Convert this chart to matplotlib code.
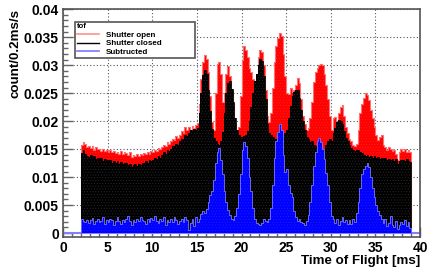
import numpy as np
import matplotlib
matplotlib.use("Agg")
from matplotlib import pyplot as plt
from matplotlib.lines import Line2D
from matplotlib.ticker import MultipleLocator, FuncFormatter

# tof histograms, 0.2 ms bins from 2.0 to 39.0 ms, values in 1e-3 count/0.2ms/s
bin_width = 0.2
tof_start = 2.0

shutter_open = [
  15.8, 16.3, 15.9, 15.4, 15.6,  15.2, 15.5, 14.9, 15.3, 15.0,
  15.1, 14.7, 15.0, 14.6, 14.9,  14.5, 14.8, 14.4, 14.6, 14.3,
  14.5, 14.2, 14.6, 14.1, 14.4,  14.3, 14.0, 14.4, 13.6, 13.9,
  13.8, 14.1, 13.7, 14.2, 14.0,  14.3, 14.1, 14.5, 14.2, 14.6,
  14.4, 14.9, 14.7, 15.2, 15.0,  15.4, 15.8, 15.5, 16.2, 15.9,
  16.4, 16.9, 16.6, 17.3, 17.0,  17.6, 18.2, 17.9, 19.0, 18.4,
  18.9, 18.5, 19.2, 18.8, 19.4,  19.6, 23.0, 27.5, 30.5, 31.8,
  31.2, 28.8, 24.5, 19.8, 18.5,  25.0, 30.2, 30.6, 28.5, 23.5,
  24.8, 28.5, 29.8, 28.0, 25.5,  23.0, 19.5, 17.5, 19.0, 24.5,
  31.0, 33.4, 32.8, 31.5, 29.5,  28.8, 27.5, 27.0, 28.2, 31.5,
  32.7, 32.4, 30.0, 25.5, 21.0,  19.8, 21.5, 26.0, 30.5, 33.5,
  34.8, 35.7, 35.2, 32.0, 28.0,  25.0, 24.8, 26.0, 25.2, 25.6,
  26.5, 27.7, 26.8, 24.0, 21.0,  19.5, 18.5, 18.8, 20.5, 23.5,
  27.0, 28.8, 29.5, 30.0, 30.3,  30.0, 28.5, 26.5, 24.0, 21.0,
  18.5, 20.5, 20.8, 19.5, 21.5,  22.5, 22.9, 21.0, 19.0, 17.8,
  16.8, 16.5, 15.8, 15.5, 16.0,  18.5, 21.5, 23.0, 24.2, 25.0,
  24.6, 23.8, 22.0, 20.5, 19.0,  17.5, 16.6, 17.2, 17.5, 15.8,
  15.3, 14.9, 15.4, 15.0, 14.7,  14.9, 14.2, 13.0, 14.4, 15.0,
  14.6, 15.1, 14.5, 14.9, 14.4,
]

shutter_closed = [
  14.3, 14.8, 14.2, 13.8, 13.6,  13.9, 13.4, 13.7, 13.2, 13.5,
  13.1, 13.4, 12.9, 13.3, 13.0,  12.8, 13.1, 12.6, 12.9, 12.5,
  12.8, 12.4, 12.7, 12.3, 12.6,  12.5, 12.1, 12.4, 11.8, 12.2,
  12.3, 12.0, 12.4, 12.2, 12.6,  12.5, 12.8, 12.6, 13.0, 12.8,
  13.1, 13.4, 13.2, 13.7, 13.5,  14.0, 14.4, 14.2, 14.8, 14.6,
  15.1, 15.5, 15.3, 15.9, 15.8,  16.4, 16.9, 16.7, 17.6, 17.3,
  17.8, 18.4, 18.1, 18.6, 18.4,  18.8, 21.5, 25.0, 28.2, 29.2,
  28.5, 25.5, 21.8, 18.6, 17.0,  16.5, 16.0, 15.8, 16.5, 18.0,
  21.5, 25.0, 26.8, 27.2, 25.8,  23.5, 20.5, 18.5, 17.5, 17.2,
  17.0, 17.3, 17.5, 18.2, 20.0,  22.5, 25.0, 27.2, 28.5, 30.0,
  31.2, 30.8, 28.0, 24.0, 19.5,  17.8, 17.5, 17.2, 16.5, 16.8,
  17.0, 16.8, 17.2, 17.5, 17.8,  18.5, 20.5, 22.8, 24.5, 25.2,
  25.6, 25.5, 24.2, 22.0, 20.0,  18.5, 17.2, 16.8, 16.2, 16.5,
  15.8, 15.5, 15.1, 14.6, 14.3,  14.5, 15.0, 15.8, 16.5, 16.8,
  16.5, 17.8, 18.8, 19.8, 20.2,  20.0, 19.5, 18.2, 17.0, 16.5,
  15.8, 15.2, 14.8, 14.6, 14.9,  14.8, 14.5, 14.3, 14.0, 13.8,
  13.9, 13.6, 13.8, 13.5, 13.7,  13.4, 13.6, 13.3, 13.5, 13.2,
  13.4, 13.1, 13.3, 13.0, 13.2,  12.9, 13.2, 12.4, 12.9, 13.1,
  13.0, 12.8, 13.2, 12.9, 12.7,
]

subtructed = [
  2.6, 2.2, 1.9, 2.4, 1.8,  2.3, 2.7, 1.6, 2.1, 2.5,
  1.9, 2.2, 2.8, 1.7, 2.4,  2.0, 2.6, 2.3, 1.5, 2.2,
  2.8, 2.1, 1.6, 2.4, 2.0,  2.5, 3.0, 2.2, 1.4, 2.3,
  1.9, 2.6, 2.1, 2.9, 2.4,  2.2, 1.6, 2.5, 2.0, 2.7,
  2.4, 3.1, 2.2, 1.8, 2.6,  2.1, 2.8, 1.5, 2.4, 2.0,
  2.6, 1.9, 2.9, 2.3, 1.7,  2.2, 2.5, 1.9, 2.8, 2.4,
  0.6, 1.8, 2.5, 1.3, 2.9,  2.0, 2.6, 3.4, 4.0, 3.5,
  4.3, 5.5, 6.8, 7.5, 9.5,  12.5, 14.5, 15.2, 13.0, 10.5,
  7.5, 5.5, 4.2, 3.2, 2.6,  2.4, 3.0, 4.5, 7.0, 10.5,
  14.8, 16.2, 15.5, 13.5, 10.0,  7.5, 4.5, 2.5, 1.8, 1.6,
  1.5, 1.8, 2.6, 2.2, 2.0,  2.5, 4.5, 8.5, 13.5, 16.5,
  18.0, 19.5, 18.5, 14.0, 11.0,  11.5, 8.5, 7.2, 6.5, 4.0,
  2.8, 2.2, 2.6, 2.0, 1.8,  1.5, 2.2, 3.2, 5.5, 8.5,
  12.0, 14.5, 16.5, 17.0, 16.2,  15.0, 13.2, 10.8, 8.5, 5.5,
  3.0, 2.5, 1.8, 2.6, 1.5,  2.2, 2.8, 2.0, 2.4, 1.6,
  2.3, 1.7, 2.5, 2.0, 3.5,  5.5, 8.0, 10.5, 11.5, 12.0,
  12.5, 11.8, 10.0, 8.0, 6.5,  5.0, 4.0, 3.2, 2.6, 1.8,
  2.5, 1.2, 1.8, 3.0, 1.4,  1.0, 2.2, 0.8, 1.5, 2.0,
  1.6, 2.4, 1.2, 1.9, 0.9,
]

legend_labels = ["Shutter open", "Shutter closed", "Subtructed"]

plt.rcParams["font.family"] = ["Liberation Sans", "DejaVu Sans"]
plt.rcParams["font.weight"] = "bold"
plt.rcParams["hatch.linewidth"] = 0.4


def _to_hist(values):
  return np.asarray(values) * 1e-3


open_h = _to_hist(shutter_open)
closed_h = _to_hist(shutter_closed)
sub_h = _to_hist(subtructed)
edges = tof_start + bin_width * np.arange(len(open_h) + 1)

fig = plt.figure(figsize=(4.36, 2.73), dpi=100)
ax = fig.add_axes([0.1445, 0.132, 0.819, 0.834])

ax.grid(True, which="major", color="#555555", linestyle=(0, (1, 2)), linewidth=0.8)
ax.set_axisbelow(True)

ax.stairs(open_h, edges, fill=True, facecolor="#ff0000", edgecolor="#ff2020",
          hatch="......", linewidth=0, zorder=2)
ax.stairs(open_h, edges, color="#ff7070", linewidth=0.8, zorder=2)
ax.stairs(closed_h, edges, fill=True, facecolor="#000000", edgecolor="#2a2a2a",
          hatch="......", linewidth=0, zorder=3)
ax.stairs(closed_h, edges, color="#000000", linewidth=0.6, zorder=3)
ax.stairs(sub_h, edges, fill=True, facecolor="#0000ff", edgecolor="#2020ff",
          hatch="......", linewidth=0, zorder=4)
ax.stairs(sub_h, edges, color="#7777ff", linewidth=0.6, zorder=4)
# empty bins of the subtracted histogram stay visible on the zero line
ax.axhline(0, color="#8080ff", linewidth=1.5, zorder=1.5)

ax.set_xlim(0, 40)
ax.set_ylim(-0.0007, 0.04)
ax.xaxis.set_major_locator(MultipleLocator(5))
ax.xaxis.set_minor_locator(MultipleLocator(1))
ax.yaxis.set_major_locator(MultipleLocator(0.005))
ax.yaxis.set_minor_locator(MultipleLocator(0.001))
ax.yaxis.set_major_formatter(FuncFormatter(lambda v, p: "%g" % round(v, 4)))

ax.tick_params(which="both", direction="in", colors="#666666", labelcolor="black",
               labelsize=10, width=1)
ax.tick_params(which="major", length=7, pad=3)
ax.tick_params(which="minor", length=3.5)
for spine in ax.spines.values():
  spine.set_color("#555555")
  spine.set_linewidth(1.2)

ax.set_xlabel("Time of Flight [ms]", loc="right", fontsize=9.6, fontweight="bold")
ax.xaxis.set_label_coords(1.0, -0.08)
ax.set_ylabel("count/0.2ms/s", loc="top", fontsize=9.6, fontweight="bold")
ax.yaxis.set_label_coords(-0.115, 1.0)

handles = [
  Line2D([], [], color="#ff9090", linewidth=1.2),
  Line2D([], [], color="#000000", linewidth=1.0),
  Line2D([], [], color="#7777ff", linewidth=1.2),
]
leg = ax.legend(handles, legend_labels, title="tof", loc="upper left",
                bbox_to_anchor=(0.034, 0.946, 0.336, 0.0), mode="expand",
                borderaxespad=0, fancybox=False, framealpha=1,
                edgecolor="#555555", fontsize=5.8, title_fontsize=5.5,
                alignment="left", handlelength=2.8, handletextpad=0.8,
                labelspacing=0.12, borderpad=0.2)
leg.get_frame().set_linewidth(1.2)
leg.set_zorder(6)

fig.savefig("out.png", dpi=100, facecolor="white")
